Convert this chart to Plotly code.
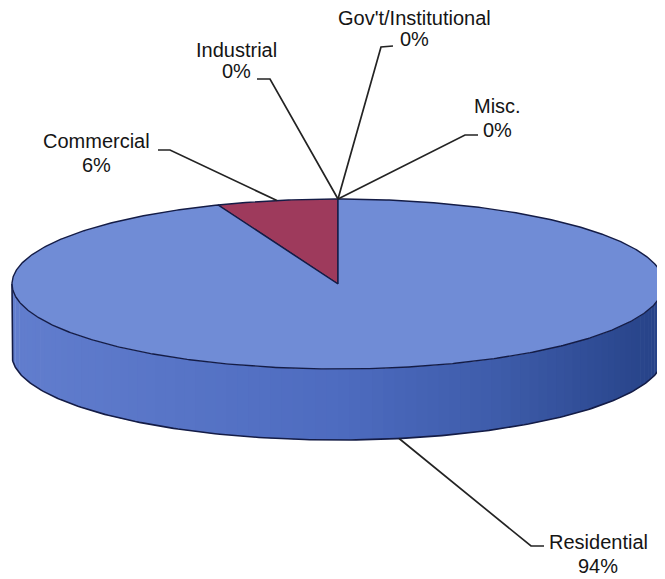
import numpy as np
import plotly.graph_objects as go

# ---- data ----
categories = ["Residential", "Commercial", "Industrial", "Gov't/Institutional", "Misc."]
values = [94, 6, 0, 0, 0]
# slices laid out counter-clockwise from 12 o'clock
order = ["Misc.", "Gov't/Institutional", "Industrial", "Commercial", "Residential"]

# ---- geometry / style (pixel space) ----
W, H = 665, 579
OFF = 8  # default page body margin
cx, cy, a, b, T = 338, 284, 326, 85, 71
top_colors = {"Residential": "rgb(112,140,214)", "Commercial": "rgb(158,58,92)",
              "Industrial": "rgb(200,200,120)", "Gov't/Institutional": "rgb(120,200,200)",
              "Misc.": "rgb(120,80,160)"}
edge = "rgb(20,28,70)"

# (x centre, line1 y, line2 y, stub [near-pie end, text end])
label_pos = {
    "Gov't/Institutional": (414, 18, 39, [(381, 47), (393, 46)]),
    "Industrial": (236, 50, 71, [(270, 79), (257, 79)]),
    "Misc.": (497, 106, 130, [(465, 135), (478, 135)]),
    "Commercial": (96, 141, 165, [(170, 150), (158, 150)]),
    "Residential": (598, 542, 566, [(531, 546), (544, 546)]),
}

def ell(theta_deg, dy=0.0):
    t = np.radians(theta_deg)
    return cx + a * np.cos(t), cy - b * np.sin(t) + dy

fig = go.Figure()

# side wall (front half) drawn as gradient strips
N = 90
ths = np.linspace(180, 360, N + 1)
def side_color(th):
    u = (np.cos(np.radians(th)) + 1) / 2  # 0 left, 1 right
    stops = [(0.0, (98, 126, 206)), (0.5, (78, 108, 192)), (0.75, (62, 92, 170)), (1.0, (38, 66, 135))]
    for (u0, c0), (u1, c1) in zip(stops[:-1], stops[1:]):
        if u <= u1:
            f = (u - u0) / (u1 - u0)
            return "rgb(%d,%d,%d)" % tuple(int(c0[k] + f * (c1[k] - c0[k])) for k in range(3))
    return "rgb(38,66,135)"
for i in range(N):
    t = np.linspace(ths[i], ths[i + 1] + 0.3, 4)
    xt, yt = ell(t)
    xb, yb = ell(t[::-1], T)
    fig.add_trace(go.Scatter(x=np.r_[xt, xb], y=np.r_[yt, yb], fill="toself", mode="lines",
                             line=dict(width=0), fillcolor=side_color((ths[i] + ths[i + 1]) / 2),
                             hoverinfo="skip", showlegend=False))
# side outline
t = np.linspace(180, 360, 200)
xt, yt = ell(t, T)
xo = np.r_[ell(180)[0], xt, ell(360)[0]]
yo = np.r_[ell(180)[1], yt, ell(360)[1]]
fig.add_trace(go.Scatter(x=xo, y=yo, mode="lines", line=dict(color=edge, width=1.6),
                         hoverinfo="skip", showlegend=False))

# top surface slices
total = sum(values)
val = dict(zip(categories, values))
start = 90.0
mids = {}
for name in order:
    sweep = 360.0 * val[name] / total
    end = start + sweep
    mids[name] = (start + end) / 2
    if sweep > 0:
        t = np.linspace(start, end, max(int(sweep * 2), 4))
        xs, ys = ell(t)
        fig.add_trace(go.Scatter(x=np.r_[cx, xs, cx], y=np.r_[cy, ys, cy], fill="toself",
                                 mode="lines", line=dict(color=edge, width=1.4),
                                 fillcolor=top_colors[name], hoverinfo="skip", showlegend=False))
    start = end

# labels with leader lines
font = dict(family="Liberation Sans, Arial", size=20, color="#151515")
for name in order:
    tx, y1, y2, stub = label_pos[name]
    m = mids[name]
    dy = T if np.sin(np.radians(m)) < 0 else 0
    px, py = ell(m, dy)
    fig.add_trace(go.Scatter(x=[stub[1][0], stub[0][0], px], y=[stub[1][1], stub[0][1], py],
                             mode="lines", line=dict(color="rgb(35,35,35)", width=1.7),
                             hoverinfo="skip", showlegend=False))
    fig.add_annotation(x=tx, y=y1, text=name, showarrow=False, font=font,
                       xanchor="center", yanchor="middle")
    fig.add_annotation(x=tx, y=y2, text="%d%%" % round(val[name] / total * 100), showarrow=False,
                       font=font, xanchor="center", yanchor="middle")

fig.update_layout(width=W - OFF, height=H - OFF, margin=dict(l=0, r=0, t=0, b=0),
                  paper_bgcolor="white", plot_bgcolor="white",
                  xaxis=dict(range=[OFF, W], visible=False, fixedrange=True),
                  yaxis=dict(range=[H, OFF], visible=False, fixedrange=True))
fig.write_html("out.html")
